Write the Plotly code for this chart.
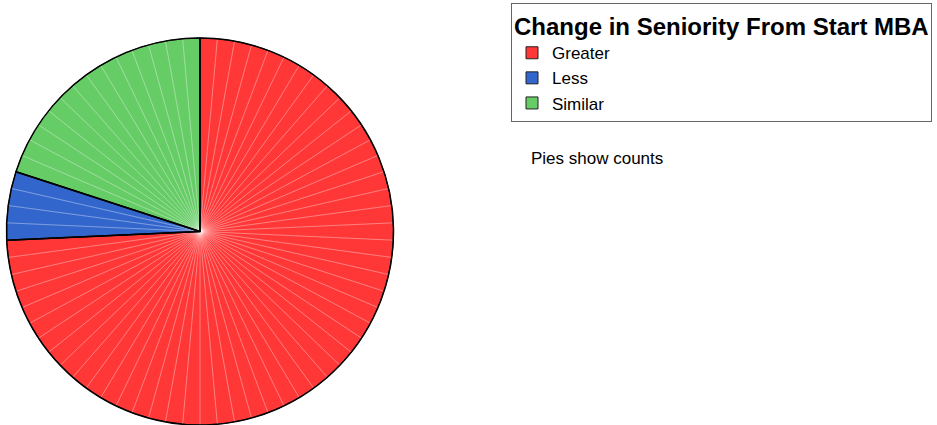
import plotly.graph_objects as go

# Counts per category
categories = ["Greater", "Less", "Similar"]
counts = [52, 4, 14]
colors = ["#FF3737", "#3366CC", "#66CC66"]

legend_title = "Change in Seniority From Start MBA"
note_text = "Pies show counts"

FONT = "Arial, Liberation Sans, sans-serif"
pie_domain = dict(x=[6 / 937, 394 / 937], y=[0.0, 0.9106])

# One unit slice per case, so each case shows as a faint wedge line
case_labels = []
for cat, n in zip(categories, counts):
    case_labels += [f"{cat} #{i + 1}" for i in range(n)]
case_values = [1] * len(case_labels)

fig = go.Figure()

# Filled category pie (drives the legend)
fig.add_trace(go.Pie(
    labels=categories, values=counts, sort=False, direction="clockwise",
    rotation=0, domain=pie_domain, textinfo="none", hoverinfo="label+value",
    marker=dict(colors=colors, line=dict(color="#222222", width=1)),
    showlegend=True,
))

# Per-case wedges: transparent fill, faint white separators
fig.add_trace(go.Pie(
    labels=case_labels, values=case_values, sort=False, direction="clockwise",
    rotation=0, domain=pie_domain, textinfo="none", hoverinfo="skip",
    marker=dict(colors=["rgba(0,0,0,0)"] * len(case_labels),
                line=dict(color="rgba(255,255,255,0.25)", width=0.8)),
    showlegend=False,
))

# Black outlines around each category
fig.add_trace(go.Pie(
    labels=categories, values=counts, sort=False, direction="clockwise",
    rotation=0, domain=pie_domain, textinfo="none", hoverinfo="skip",
    marker=dict(colors=["rgba(0,0,0,0)"] * 3, line=dict(color="#000000", width=1.5)),
    showlegend=False,
))

fig.update_layout(
    width=937, height=425,
    margin=dict(l=0, r=0, t=0, b=0),
    paper_bgcolor="white", plot_bgcolor="white",
    font=dict(family=FONT, color="#000000"),
    legend=dict(
        title=dict(text=f"<b>{legend_title}</b>", font=dict(size=24, family=FONT), side="top"),
        font=dict(size=17, family=FONT),
        x=511 / 937, xanchor="left", y=1 - 3 / 425, yanchor="top",
        bgcolor="white", bordercolor="#666666", borderwidth=1,
        traceorder="normal", itemwidth=30,
    ),
    annotations=[dict(
        text=note_text, xref="paper", yref="paper",
        x=529 / 937, y=1 - 158 / 425, xanchor="left", yanchor="middle",
        showarrow=False, font=dict(size=17, family=FONT, color="#000000"),
    )],
)

fig.write_html("out.html")
